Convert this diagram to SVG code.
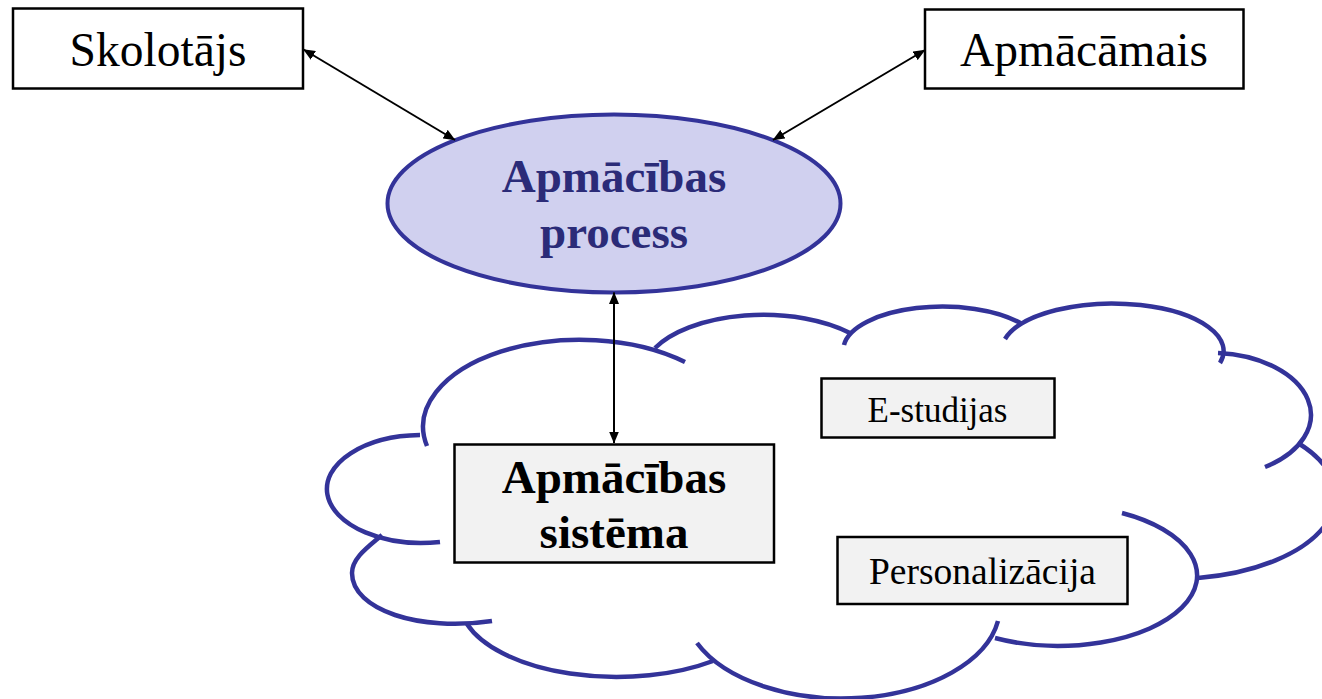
<svg xmlns="http://www.w3.org/2000/svg" width="1322" height="699" viewBox="0 0 1322 699">
  <style>
    .box { fill: #ffffff; stroke: #000000; stroke-width: 2.5; }
    .grey { fill: #f2f2f2; stroke: #000000; stroke-width: 2.5; }
    .lbl { font-family: "Liberation Serif", "Times New Roman", serif; fill: #000000; text-anchor: middle; }
    .big { font-size: 47.5px; }
    .bold { font-weight: bold; font-size: 47px; }
    .navy { fill: #2b2b78; }
    .cloud { fill: none; stroke: #333399; stroke-width: 4.5; }
    .link { stroke: #000000; stroke-width: 2; fill: none; marker-start: url(#head); marker-end: url(#head); }
  </style>
  <defs>
    <marker id="head" viewBox="0 0 12 10" refX="11.5" refY="5" markerWidth="12" markerHeight="10" markerUnits="userSpaceOnUse" orient="auto-start-reverse">
      <path d="M0,0 L12,5 L0,10 z" fill="#000000"/>
    </marker>
  </defs>
  <rect width="1322" height="699" fill="#ffffff"/>

  <!-- cloud made of overlapping arcs -->
  <g id="cloud">
    <path class="cloud" d="M 427 446 A 157 87 0 0 1 685 362"/>
    <path class="cloud" d="M 655 348 A 121 60 0 0 1 850 333"/>
    <path class="cloud" d="M 844 345 A 99 43 0 0 1 1022 324"/>
    <path class="cloud" d="M 1005 339 A 110 47 0 1 1 1220 363"/>
    <path class="cloud" d="M 1218 353 A 100 62 0 0 1 1265 467"/>
    <path class="cloud" d="M 1298 443 A 163 83 0 0 1 1198 578"/>
    <path class="cloud" d="M 1122 513 A 138 70 0 1 1 995 638"/>
    <path class="cloud" d="M 998 621 A 158 92 0 0 1 697 643"/>
    <path class="cloud" d="M 713 661 A 157 76 0 0 1 467 624"/>
    <path class="cloud" d="M 382 535 C 368 547 352 558 352 573 C 352 610 420 632 492 621"/>
    <path class="cloud" d="M 440 542 A 95 54 0 1 1 420 435"/>
  </g>

  <g id="skolotajs">
    <rect class="box" x="13" y="8.5" width="290" height="80"/>
    <text class="lbl big" x="158" y="66">Skolotājs</text>
  </g>

  <g id="apmacamais">
    <rect class="box" x="925" y="9.5" width="318.5" height="79"/>
    <text class="lbl big" x="1084" y="66">Apmācāmais</text>
  </g>

  <g id="process">
    <ellipse cx="614" cy="203.5" rx="226.5" ry="89" fill="#d0d0ef" stroke="#333399" stroke-width="4"/>
    <text class="lbl bold navy" x="614" y="192">Apmācības</text>
    <text class="lbl bold navy" x="614" y="248">process</text>
  </g>

  <g id="sistema">
    <rect class="grey" x="454.5" y="444.5" width="319.5" height="118"/>
    <text class="lbl bold" x="614" y="493">Apmācības</text>
    <text class="lbl bold" x="614" y="548">sistēma</text>
  </g>

  <g id="estudijas">
    <rect class="grey" x="821.5" y="378.5" width="233" height="59"/>
    <text class="lbl" x="937.5" y="421.5" font-size="35">E-studijas</text>
  </g>

  <g id="personalizacija">
    <rect class="grey" x="837.5" y="537" width="290" height="67"/>
    <text class="lbl" x="982.5" y="584" font-size="37.5">Personalizācija</text>
  </g>

  <g id="connectors">
    <line class="link" x1="303.5" y1="49.5" x2="455" y2="140"/>
    <line class="link" x1="925" y1="50" x2="773" y2="140"/>
    <line class="link" x1="614" y1="292.5" x2="614" y2="443"/>
  </g>
</svg>
